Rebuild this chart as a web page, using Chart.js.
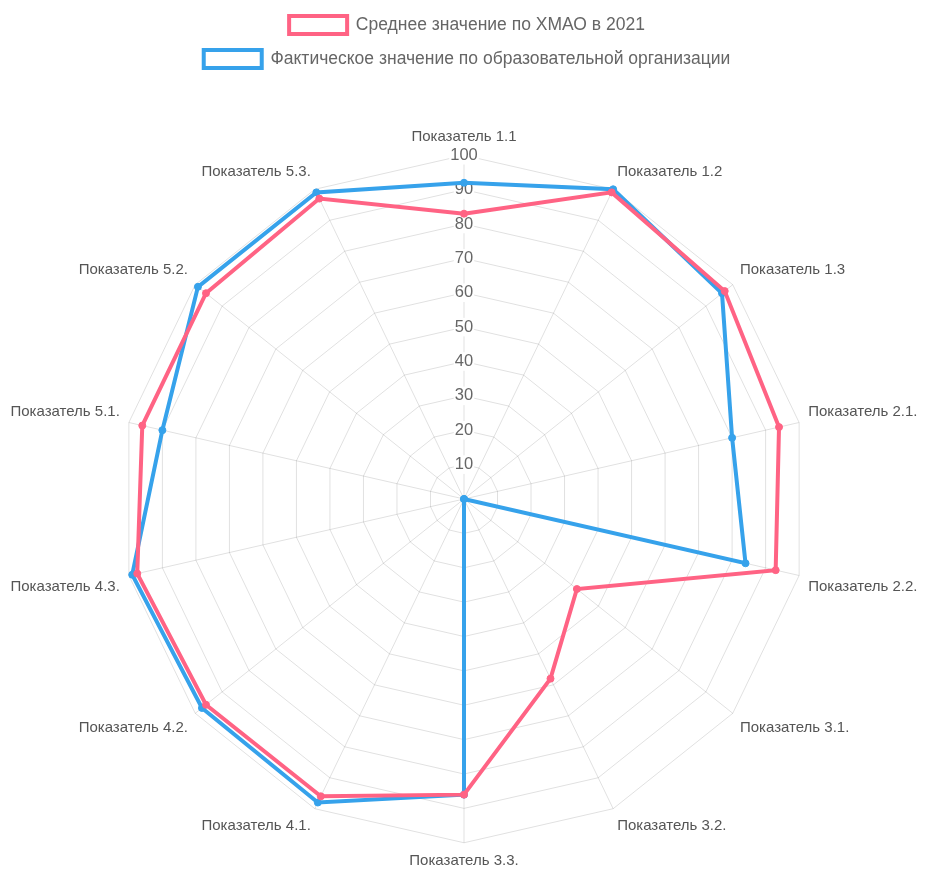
<!DOCTYPE html>
<html>
<head>
<meta charset="utf-8">
<script src="https://cdn.jsdelivr.net/npm/chart.js@4/dist/chart.umd.min.js"></script>
<style>
  html, body { margin: 0; padding: 0; background: #fff; }
  #wrap { width: 926px; height: 870px; position: relative; }
</style>
</head>
<body>
<div id="wrap"><canvas id="radar-chart"></canvas></div>
<script>
const labels = [
  "Показатель 1.1", "Показатель 1.2", "Показатель 1.3", "Показатель 2.1.",
  "Показатель 2.2.", "Показатель 3.1.", "Показатель 3.2.", "Показатель 3.3.",
  "Показатель 4.1.", "Показатель 4.2.", "Показатель 4.3.", "Показатель 5.1.",
  "Показатель 5.2.", "Показатель 5.3."
];

// Среднее значение по ХМАО в 2021
const avgValues = [83, 99, 97, 94, 93, 42, 58, 86, 96, 96, 97.5, 96, 96, 97];
// Фактическое значение по образовательной организации
const actualValues = [92, 100, 96, 80, 84, 0, 0, 86, 98, 97.5, 99, 90, 99, 99];

const ctx = document.getElementById("radar-chart");

// extra room under the legend
const legendSpacer = {
  id: "legendSpacer",
  beforeInit(chart) {
    const origFit = chart.legend.fit;
    chart.legend.fit = function () {
      origFit.bind(chart.legend)();
      this.height += 50;
    };
  },
};

const info = {
  labels: labels,
  datasets: [
    {
      label: "Среднее значение по ХМАО в 2021",
      data: avgValues,
      borderColor: "rgb(255, 99, 132)",
      backgroundColor: "rgba(255, 255, 255, 0)",
      pointBackgroundColor: "rgb(255, 99, 132)",
      pointBorderColor: "rgb(255, 99, 132)",
      borderWidth: 4,
      pointRadius: 3.5,
      pointBorderWidth: 1,
      fill: false,
    },
    {
      label: "Фактическое значение по образовательной организации",
      data: actualValues,
      borderColor: "rgb(54, 162, 235)",
      backgroundColor: "rgba(255, 255, 255, 0)",
      pointBackgroundColor: "rgb(54, 162, 235)",
      pointBorderColor: "rgb(54, 162, 235)",
      borderWidth: 4,
      pointRadius: 3.5,
      pointBorderWidth: 1,
      fill: false,
    },
  ],
};

const options = {
  responsive: true,
  maintainAspectRatio: false,
  animation: false,
  elements: { line: { tension: 0 } },
  layout: { padding: { top: 0, bottom: -24, left: 4, right: -4 } },
  plugins: {
    legend: {
      position: "top",
      labels: {
        color: "#666",
        boxWidth: 58,
        boxHeight: 18,
        padding: 16,
        font: { family: "Liberation Sans", size: 17.5 },
      },
    },
    tooltip: { enabled: false },
  },
  scales: {
    r: {
      min: 0,
      max: 100,
      ticks: {
        stepSize: 10,
        color: "#666",
        backdropColor: "#fff",
        backdropPadding: 1,
        font: { family: "Liberation Sans", size: 16.5 },
      },
      grid: { color: "rgba(0,0,0,0.12)" },
      angleLines: { color: "rgba(0,0,0,0.12)" },
      pointLabels: {
        color: "#555",
        padding: 0,
        font: { family: "Liberation Sans", size: 15 },
      },
    },
  },
};

new Chart(ctx, {
  type: "radar",
  data: info,
  options: options,
  plugins: [legendSpacer],
});
</script>
</body>
</html>
